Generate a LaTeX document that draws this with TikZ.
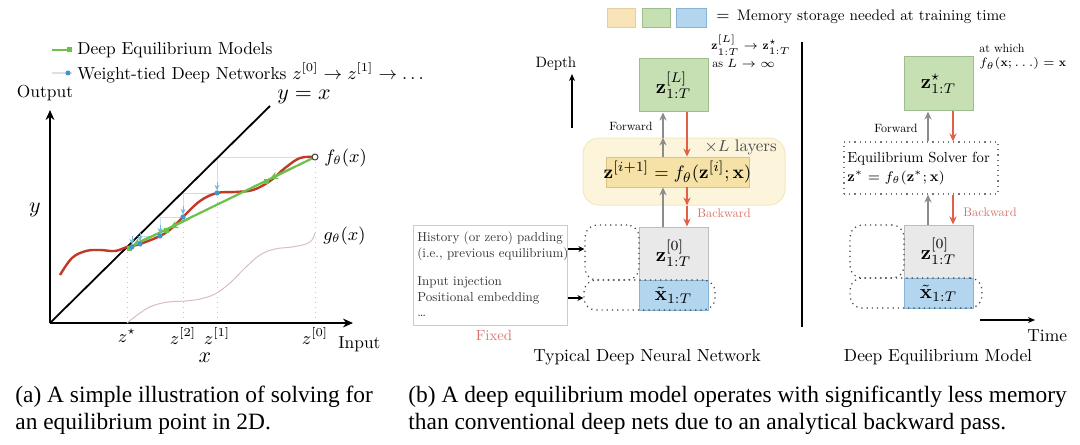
\documentclass[tikz,border=0pt]{standalone}
\usepackage{fontspec}
\setmainfont{lmroman10}[Extension=.otf, UprightFont=*-regular, BoldFont=*-bold, ItalicFont=*-italic, BoldItalicFont=*-bolditalic]
\newfontfamily\capfont{Liberation Serif}
\usetikzlibrary{arrows.meta,fit,calc}
\definecolor{fred}{HTML}{C0392B}
\definecolor{fgreen}{HTML}{6DC04A}
\definecolor{fblue}{HTML}{3D97CF}
\definecolor{gcol}{HTML}{D9BCC4}
\definecolor{boxgreen}{HTML}{C6E0B4}
\definecolor{boxgreenB}{HTML}{9CBF8A}
\definecolor{boxblue}{HTML}{B4D5EE}
\definecolor{boxblueB}{HTML}{86B3D6}
\definecolor{boxyel}{HTML}{F8E4B8}
\definecolor{boxyelB}{HTML}{E5CF9E}
\definecolor{yelbg}{HTML}{FCF5DC}
\definecolor{yelbgB}{HTML}{F2E8C4}
\definecolor{yelin}{HTML}{F6E2A6}
\definecolor{yelinB}{HTML}{DCC383}
\definecolor{boxgrey}{HTML}{E9E9E9}
\definecolor{boxgreyB}{HTML}{BDBDBD}
\definecolor{arrgrey}{HTML}{8C8C8C}
\definecolor{arrred}{HTML}{E0604A}
\definecolor{lblred}{HTML}{D9756A}
\tikzset{
  lbl/.style={inner sep=0pt, font=\fontsize{8.7}{10}\selectfont},
  mlbl/.style={inner sep=0pt, font=\fontsize{9}{11}\selectfont},
  biglbl/.style={inner sep=0pt, font=\fontsize{11}{13}\selectfont},
  tinytxt/.style={inner sep=0pt, font=\fontsize{6}{7}\selectfont},
  fixtxt/.style={inner sep=0pt, anchor=west, font=\fontsize{6.5}{8}\selectfont, text=black!80},
  mathbox/.style={inner sep=0pt, font=\fontsize{10}{12}\selectfont},
  gbox/.style={fill=boxgreen, draw=boxgreenB, line width=0.5pt, inner sep=0pt},
  greybox/.style={fill=boxgrey, draw=boxgreyB, line width=0.5pt, inner sep=0pt},
  bluebox/.style={fill=boxblue, draw=boxblueB, line width=0.5pt, inner sep=0pt},
  dotbox/.style={draw=black!75, dotted, line width=0.6pt, rounded corners=6pt, inner sep=0pt},
  fwd/.style={draw=arrgrey, line width=0.8pt, -{Stealth[length=4pt,width=3.6pt]}},
  bwd/.style={draw=arrred, line width=0.8pt, -{Stealth[length=4pt,width=3.6pt]}},
  axis/.style={line width=0.9pt, -{Stealth[length=5pt,width=4.4pt]}},
  captxt/.style={inner sep=0pt, anchor=west, font=\capfont\fontsize{11.7}{14}\selectfont},
}
\begin{document}
\begin{tikzpicture}[x=0.5pt,y=-0.5pt]
\fill[white] (0,0) rectangle (1080,444);
\useasboundingbox (0,0) rectangle (1080,444);

%% ---------------- left plot ----------------
% legend
\draw[fgreen, line width=1pt] (52,50) -- (72,50);
\fill[fgreen] (69,50) +(-2.5,-2.5) rectangle +(2.5,2.5);
\node[lbl, anchor=west] (legA) at (77,50) {Deep Equilibrium Models};
\draw[gray!25, line width=1pt] (52,73) -- (72,73);
\fill[fblue] (68,73) circle (2.5);
\node[lbl, anchor=west] (legB) at (77,73) {Weight-tied Deep Networks $z^{[0]}\to z^{[1]}\to\dots$};

% guides
\draw[gray!45, dotted, line width=0.5pt] (127,323) -- (127,247);
\draw[gray!45, dotted, line width=0.5pt] (183,323) -- (183,217);
\draw[gray!45, dotted, line width=0.5pt] (217,323) -- (217,193);
\draw[gray!45, dotted, line width=0.5pt] (315,323) -- (315,157);
\draw[fblue!30, line width=0.4pt] (315,157) -- (217,157) -- (217,193) -- (183,193) -- (183,217) -- (160,217) -- (160,236) -- (140,236) -- (140,244) -- (132,244) -- (132,247);

% axes and diagonal
\draw[line width=0.9pt] (50,323) -- (270,106);
\draw[axis] (50,323) -- (50,110);
\draw[axis] (50,323) -- (353,323);

% g curve
\draw[gcol, line width=0.5pt] plot[smooth, tension=0.6] coordinates {(127,323) (140,313) (152,306) (168,302) (185,301) (200,299) (215,294) (230,283) (245,268) (260,255) (275,249) (292,247) (306,244) (312,240) (315,233)};

% f curve
\draw[fred, line width=1.2pt] plot[smooth, tension=0.6] coordinates {(60,275) (72,258) (86,251) (100,250) (115,251) (127,247) (140,244) (160,236) (172,228) (183,217) (200,201) (217,193) (235,192) (253,190) (270,181) (285,168) (300,158) (315,157)};

% green DEQ line
\draw[fgreen, line width=1.1pt] (315,157) -- (130,247);
\draw[fgreen, line width=1.1pt, -{Stealth[length=4pt,width=4pt]}] (290,169) -- (270,179);
\draw[fgreen, line width=1.1pt, -{Stealth[length=4pt,width=4pt]}] (190,218) -- (170,228);
\draw[fgreen, line width=1.1pt, -{Stealth[length=4pt,width=4pt]}] (150,237) -- (133,245);
\fill[fgreen] (266,181) +(-2.5,-2.5) rectangle +(2.5,2.5);
\fill[fgreen] (166,230) +(-2.5,-2.5) rectangle +(2.5,2.5);
\fill[fgreen] (129,248) +(-2.5,-2.5) rectangle +(2.5,2.5);

% blue weight-tied iterates
\foreach \px/\py in {217/193, 183/217, 160/236, 140/244, 132/247}{
  \draw[fblue!70, line width=0.5pt, -{Stealth[length=2.5pt,width=2.5pt]}] (\px,\py-11) -- (\px,\py-3);
  \fill[fblue] (\px,\py) circle (2.6);
}
\draw[black!75, fill=white, line width=0.5pt] (315,157) circle (3);

% labels
\node[lbl] (outp) at (45,93) {Output};
\node[biglbl] (ylab) at (35,210) {$y$};
\node[inner sep=0pt, font=\fontsize{10.5}{12}\selectfont] (xlab) at (205,358) {$x$};
\node[lbl, anchor=west] (inp) at (338,344) {Input};
\node[biglbl] (yeqx) at (304,97) {$y=x$};
\node[mlbl, anchor=west] (flab) at (324,158) {$f_\theta(x)$};
\node[mlbl, anchor=west] (glab) at (323,236) {$g_\theta(x)$};
\node[mlbl] (zs) at (127,336) {$z^\star$};
\node[mlbl] (z2) at (183,336) {$z^{[2]}$};
\node[mlbl] (z1) at (217,336) {$z^{[1]}$};
\node[mlbl] (z0) at (315,336) {$z^{[0]}$};

%% ---------------- memory legend ----------------
\node[fill=boxyel, draw=boxyelB, line width=0.4pt, inner sep=0pt, fit={(607,8)(635,27)}] (memY) {};
\node[fill=boxgreen, draw=boxgreenB, line width=0.4pt, inner sep=0pt, fit={(642,8)(670,27)}] (memG) {};
\node[fill=boxblue, draw=boxblueB, line width=0.4pt, inner sep=0pt, fit={(676,8)(706,27)}] (memB) {};
\node[inner sep=0pt, anchor=west, font=\fontsize{7.6}{9}\selectfont] (memT) at (716,17) {$=$\, Memory storage needed at training time};

%% ---------------- middle: typical DNN ----------------
\node[inner sep=0pt, font=\fontsize{7.5}{9}\selectfont] (depth) at (556,64) {Depth};
\coordinate (dA) at (572,128);
\coordinate (dB) at (572,74);
\draw[line width=0.6pt, -{Stealth[length=3.5pt,width=3pt]}] (dA) -- (dB);

\node[gbox, fit={(639,59)(708,112)}] (zLm) {};
\node[mathbox] (zLmT) at (zLm.center) {$\mathbf{z}^{[L]}_{1:T}$};
\node[tinytxt, anchor=west] (annL1) at (711,45) {$\mathbf{z}^{[L]}_{1:T}\to\mathbf{z}^{\star}_{1:T}$};
\node[tinytxt, anchor=west] (annL2) at (712,63) {as $L\to\infty$};

\node[fill=yelbg, draw=yelbgB, line width=0.5pt, rounded corners=8pt, inner sep=0pt, fit={(583,138)(785,205)}] (yel) {};
\node[fill=yelin, draw=yelinB, line width=0.4pt, inner sep=0pt, fit={(606,157)(749,187)}] (inm) {};
\node[inner sep=0pt, font=\fontsize{9.4}{11}\selectfont] (inmT) at (inm.center) {$\mathbf{z}^{[i+1]}=f_\theta(\mathbf{z}^{[i]};\mathbf{x})$};
\node[inner sep=0pt, anchor=east, font=\fontsize{8.4}{10}\selectfont, text=black!70] (xL) at (777,147) {$\times L$ layers};

\node[greybox, fit={(639,227)(708,280)}] (z0m) {};
\node[mathbox] (z0mT) at (z0m.center) {$\mathbf{z}^{[0]}_{1:T}$};
\node[bluebox, fit={(639,280)(708,310)}] (xm) {};
\node[mathbox] (xmT) at (xm.center) {$\tilde{\mathbf{x}}_{1:T}$};
\node[dotbox, fit={(585,225)(639,280)}] (dUm) {};
\node[dotbox, fit={(584,280)(715,310)}] (dLm) {};

\coordinate (gxm) at (663,0);
\coordinate (rxm) at (687,0);
\draw[fwd] (z0m.north -| gxm) -- (inm.south -| gxm);
\draw[fwd] (inm.north -| gxm) -- (yel.north -| gxm);
\draw[fwd] (yel.north -| gxm) -- (zLm.south -| gxm);
\draw[bwd] (zLm.south -| rxm) -- (inm.north -| rxm);
\draw[bwd] (inm.south -| rxm) -- (yel.south -| rxm);
\draw[bwd] (yel.south -| rxm) -- (z0m.north -| rxm);
\node[tinytxt, anchor=east] (fwdm) at (653,126) {Forward};
\node[tinytxt, anchor=west, text=lblred, font=\fontsize{6.2}{7}\selectfont] (bwdm) at (697,213) {Backward};

\node[draw=gray!40, line width=0.5pt, inner sep=0pt, fit={(413,225)(567,325)}] (fixed) {};
\node[fixtxt] (f1) at (417,238) {History (or zero) padding};
\node[fixtxt] (f2) at (417,254) {(i.e., previous equilibrium)};
\node[fixtxt] (f3) at (417,282) {Input injection};
\node[fixtxt] (f4) at (417,298) {Positional embedding};
\node[fixtxt] (f5) at (417,316) {\dots};
\node[inner sep=0pt, font=\fontsize{7.4}{9}\selectfont, text=lblred] (fixl) at (494,335) {Fixed};
\coordinate (h1) at (0,249);
\coordinate (h2) at (0,298);
\draw[line width=0.6pt, -{Stealth[length=3pt,width=3pt]}] (fixed.east |- h1) -- (dUm.west |- h1);
\draw[line width=0.6pt, -{Stealth[length=3pt,width=3pt]}] (fixed.east |- h2) -- (dLm.west |- h2);

\node[lbl] (titm) at (647,357) {Typical Deep Neural Network};

%% separator
\draw[line width=1pt] (802,42) -- (802,327);

%% ---------------- right: DEQ ----------------
\node[gbox, fit={(904,57)(973,111)}] (zsr) {};
\node[mathbox] (zsrT) at (zsr.center) {$\mathbf{z}^{\star}_{1:T}$};
\node[tinytxt, anchor=west] (annR1) at (979,48) {at which};
\node[tinytxt, anchor=west] (annR2) at (979,64) {$f_\theta(\mathbf{x};\dots)=\mathbf{x}$};

\node[draw=black!55, dotted, line width=0.6pt, inner sep=0pt, fit={(844,142)(998,194)}] (solver) {};
\node[inner sep=0pt, anchor=west, font=\fontsize{7.3}{9}\selectfont] (sol1) at (847,159) {Equilibrium Solver for};
\node[inner sep=0pt, anchor=west, font=\fontsize{7.3}{9}\selectfont] (sol2) at (847,178) {$\mathbf{z}^{*}=f_\theta(\mathbf{z}^{*};\mathbf{x})$};

\node[greybox, fit={(904,225)(973,278)}] (z0r) {};
\node[mathbox] (z0rT) at (z0r.center) {$\mathbf{z}^{[0]}_{1:T}$};
\node[bluebox, fit={(904,278)(973,308)}] (xr) {};
\node[mathbox] (xrT) at (xr.center) {$\tilde{\mathbf{x}}_{1:T}$};
\node[dotbox, fit={(850,225)(904,278)}] (dUr) {};
\node[dotbox, fit={(850,278)(982,308)}] (dLr) {};

\coordinate (gxr) at (928,0);
\coordinate (rxr) at (953,0);
\draw[fwd] (z0r.north -| gxr) -- (solver.south -| gxr);
\draw[fwd] (solver.north -| gxr) -- (zsr.south -| gxr);
\draw[bwd] (zsr.south -| rxr) -- (solver.north -| rxr);
\draw[bwd] (solver.south -| rxr) -- (z0r.north -| rxr);
\node[tinytxt, anchor=east] (fwdr) at (918,128) {Forward};
\node[tinytxt, anchor=west, text=lblred, font=\fontsize{6.2}{7}\selectfont] (bwdr) at (963,212) {Backward};

\coordinate (tA) at (980,320);
\coordinate (tB) at (1035,320);
\draw[line width=0.6pt, -{Stealth[length=3.5pt,width=3pt]}] (tA) -- (tB);
\node[lbl, anchor=west] (timel) at (1027,336) {Time};
\node[lbl] (titr) at (938,357) {Deep Equilibrium Model};

%% ---------------- captions ----------------
\node[captxt] (capa1) at (15,397) {(a) A simple illustration of solving for};
\node[captxt] (capa2) at (15,424) {an equilibrium point in 2D.};
\node[captxt] (capb1) at (408,397) {(b) A deep equilibrium model operates with significantly less memory};
\node[captxt] (capb2) at (408,424) {than conventional deep nets due to an analytical backward pass.};
\end{tikzpicture}
\end{document}
